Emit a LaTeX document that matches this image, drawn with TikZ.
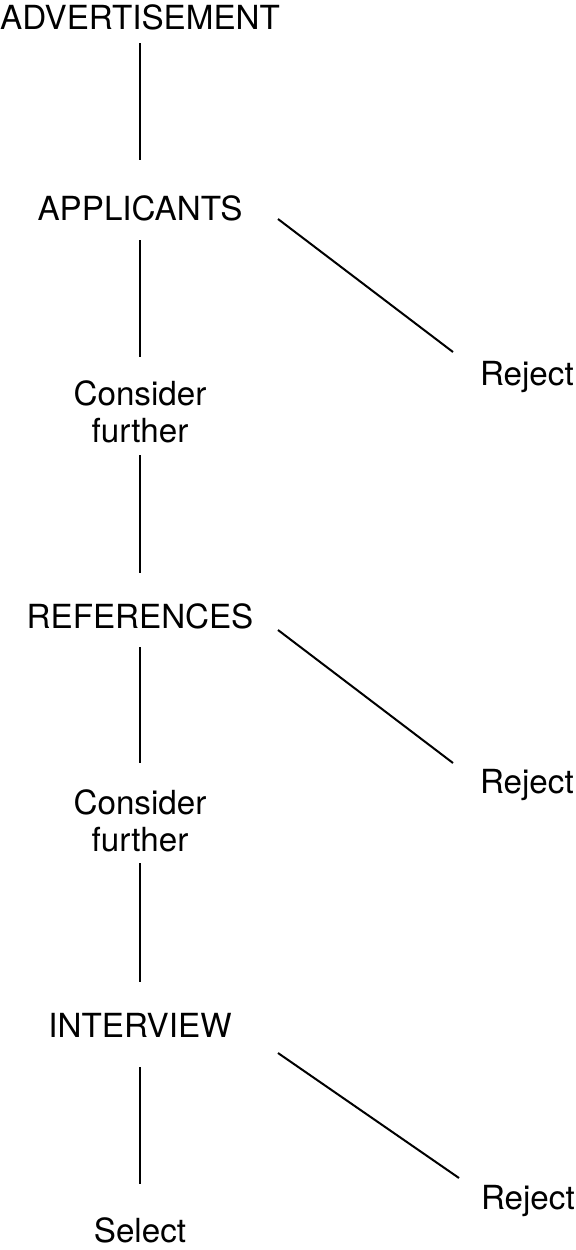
\documentclass[tikz,border=0pt]{standalone}
\usepackage{fontspec}
\setmainfont{TeX Gyre Heros}
\begin{document}
\begin{tikzpicture}[x=0.5pt,y=-0.5pt,
  lbl/.style={inner sep=0pt,outer sep=0pt,font=\fontsize{16.6}{18.5}\selectfont,text=black},
  twoline/.style={lbl,align=center},
  conn/.style={draw=black,line width=1pt}]
\useasboundingbox (0,0) rectangle (575,1250);
\node[lbl,anchor=base] (adv) at (140,29) {ADVERTISEMENT};
\node[lbl,anchor=base] (app) at (140,220) {APPLICANTS};
\node[twoline,anchor=north] (cf1) at (140,381) {Consider\\further};
\node[lbl,anchor=base west] (rej1) at (480,385) {Reject};
\node[lbl,anchor=base] (ref) at (140,628) {REFERENCES};
\node[twoline,anchor=north] (cf2) at (140,790) {Consider\\further};
\node[lbl,anchor=base west] (rej2) at (480,793) {Reject};
\node[lbl,anchor=base] (int) at (140,1037) {INTERVIEW};
\node[lbl,anchor=base west] (rej3) at (481,1209) {Reject};
\node[lbl,anchor=base] (sel) at (140,1242) {Select};
\draw[conn] ([shift={(0,14)}]adv.base) -- ([shift={(0,-60)}]app.base);
\draw[conn] ([shift={(0,20)}]app.base) -- ([shift={(0,-24)}]cf1.north);
\draw[conn] ([shift={(138,-1)}]app.base) -- ([shift={(-27,-33)}]rej1.base west);
\draw[conn] ([shift={(0,12)}]cf1.south) -- ([shift={(0,-55)}]ref.base);
\draw[conn] ([shift={(0,19)}]ref.base) -- ([shift={(0,-27)}]cf2.north);
\draw[conn] ([shift={(138,2)}]ref.base) -- ([shift={(-27,-30)}]rej2.base west);
\draw[conn] ([shift={(0,11)}]cf2.south) -- ([shift={(0,-55)}]int.base);
\draw[conn] ([shift={(0,30)}]int.base) -- ([shift={(0,-58)}]sel.base);
\draw[conn] ([shift={(138,16)}]int.base) -- ([shift={(-22,-31)}]rej3.base west);
\end{tikzpicture}
\end{document}
